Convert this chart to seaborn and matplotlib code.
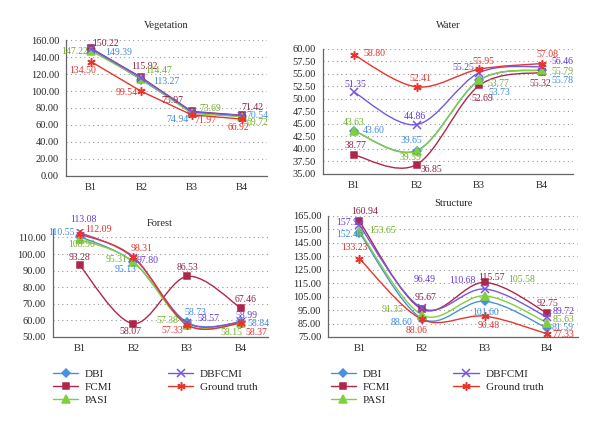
import numpy as np
import matplotlib
matplotlib.use('Agg')
import matplotlib.pyplot as plt
from matplotlib.path import Path
from matplotlib.patches import PathPatch
from matplotlib.lines import Line2D
import seaborn as sns

# --- data ---
bands = ['B1', 'B2', 'B3', 'B4']
methods = ['DBI', 'FCMI', 'PASI', 'DBFCMI', 'Ground truth']

veg_dbi = [149.39, 113.27, 74.94, 70.54]
veg_fcmi = [150.22, 115.92, 75.97, 71.42]
veg_pasi = [147.22, 114.47, 73.69, 69.72]
veg_dbfcmi = [150.00, 115.40, 75.60, 71.10]   # not labelled in the figure
veg_gt = [134.50, 99.54, 71.97, 66.92]

water_dbi = [43.60, 39.65, 53.73, 55.78]
water_fcmi = [38.77, 36.85, 52.69, 55.32]
water_pasi = [43.63, 39.59, 53.77, 55.79]
water_dbfcmi = [51.35, 44.86, 55.25, 56.46]
water_gt = [58.80, 52.41, 55.95, 57.08]

forest_dbi = [110.55, 95.13, 58.73, 58.84]
forest_fcmi = [93.28, 58.07, 86.53, 67.46]
forest_pasi = [108.90, 95.31, 57.38, 58.15]
forest_dbfcmi = [113.08, 97.80, 58.57, 58.99]
forest_gt = [112.09, 98.31, 57.33, 58.37]

struct_dbi = [152.46, 88.60, 101.60, 81.59]
struct_fcmi = [160.94, 95.67, 115.57, 92.75]
struct_pasi = [153.65, 91.35, 105.58, 85.63]
struct_dbfcmi = [157.93, 96.49, 110.68, 89.72]
struct_gt = [133.23, 88.06, 90.48, 77.33]

veg_ticks = [0, 20, 40, 60, 80, 100, 120, 140, 160]
water_ticks = [35, 37.5, 40, 42.5, 45, 47.5, 50, 52.5, 55, 57.5, 60]
forest_ticks = [50, 60, 70, 80, 90, 100, 110]
struct_ticks = [75, 85, 95, 105, 115, 125, 135, 145, 155, 165]

# --- styles ---
line_col = {'DBI': '#4a90e2', 'FCMI': '#b0264a', 'PASI': '#7fd03c',
            'DBFCMI': '#7656e4', 'Ground truth': '#e8342c'}
text_col = {'DBI': '#3d8be0', 'FCMI': '#8e2040', 'PASI': '#6fae2c',
            'DBFCMI': '#6438dc', 'Ground truth': '#e2302c'}
markers = {'DBI': 'D', 'FCMI': 's', 'PASI': '^', 'DBFCMI': 'x', 'Ground truth': (6, 2, 0)}
msize = {'DBI': 4.5, 'FCMI': 5, 'PASI': 5.5, 'DBFCMI': 5.5, 'Ground truth': 6}

# label offsets in pixels (dx right, dy down), per method per band
veg_off = {'DBI': [(27, 3), (25, 2), (-14, 7), (16, -1)],
           'FCMI': [(14, -5), (3, -11), (-19, -11), (11, -8)],
           'PASI': [(-17, 1), (17, -8), (19, -5), (16, 6)],
           'DBFCMI': None,
           'Ground truth': [(-9, 9), (-15, 1), (14, 6), (-3, 8)]}
water_off = {'DBI': [(20, 0), (-5, -10), (20, 12), (21, 10)],
             'FCMI': [(1, -9), (15, 5), (3, 13), (-1, 11)],
             'PASI': [(0, -8), (-6, 7), (19, 3), (21, 1)],
             'DBFCMI': [(1, -8), (-2, -8), (-16, -5), (21, -5)],
             'Ground truth': [(20, -1), (4, -8), (4, -8), (6, -9)]}
forest_off = {'DBI': [(-18, -4), (-8, 7), (8, -10), (18, 1)],
              'FCMI': [(0, -8), (-3, 8), (0, -9), (5, -9)],
              'PASI': [(2, 5), (-17, -2), (-20, -4), (-9, 9)],
              'DBFCMI': [(4, -13), (14, 3), (21, -4), (6, -7)],
              'Ground truth': [(19, -5), (8, -8), (-15, 6), (16, 9)]}
struct_off = {'DBI': [(-10, 2), (-20, 4), (1, 11), (16, -1)],
              'FCMI': [(5, -10), (4, -12), (7, -5), (0, -10)],
              'PASI': [(23, -1), (-29, -5), (37, -16), (16, -3)],
              'DBFCMI': [(-10, -3), (3, -29), (-22, -9), (16, -6)],
              'Ground truth': [(-5, -11), (-5, 11), (4, 9), (16, 1)]}


def smooth_path(x, y):
    # Bezier curves through the points (spreadsheet-style smoothed line)
    pts = np.column_stack([x, y]).astype(float)
    n = len(pts)
    verts, codes = [pts[0]], [Path.MOVETO]
    for i in range(n - 1):
        p0, p1 = pts[max(i - 1, 0)], pts[i]
        p2, p3 = pts[i + 1], pts[min(i + 2, n - 1)]
        verts += [p1 + (p2 - p0) / 6, p2 - (p3 - p1) / 6, p2]
        codes += [Path.CURVE4] * 3
    return Path(verts, codes)


def draw(ax, title, series, offsets, ylim, yticks, smooth, pad):
    x = np.arange(len(bands))
    for m in methods:
        vals = series[m]
        if smooth:
            ax.add_patch(PathPatch(smooth_path(x, vals), fill=False,
                                   edgecolor=line_col[m], lw=1.0, zorder=2))
        sns.lineplot(x=x, y=vals, ax=ax, color=line_col[m], marker=markers[m],
                     markersize=msize[m], markeredgecolor=line_col[m],
                     markeredgewidth=1.1, linewidth=1.0,
                     linestyle='none' if smooth else '-', zorder=3)
        if offsets[m] is None:
            continue
        for xi, v, (dx, dy) in zip(x, vals, offsets[m]):
            ax.annotate(f'{v:.2f}', (xi, v), xytext=(dx, -dy),
                        textcoords='offset pixels', ha='center', va='center',
                        fontsize=7, color=text_col[m], zorder=4,
                        annotation_clip=False)
    ax.set_xlim(-0.5, len(bands) - 0.5)
    ax.set_ylim(*ylim)
    ax.set_yticks(yticks)
    ax.set_yticklabels([f'{t:.2f}' for t in yticks])
    ax.set_xticks(x)
    ax.set_xticklabels(bands)
    ax.set_xticks(np.arange(len(bands) + 1) - 0.5, minor=True)
    ax.tick_params(axis='x', which='major', length=0, pad=5, labelsize=7.5)
    ax.tick_params(axis='x', which='minor', length=3, color='#666666')
    ax.tick_params(axis='y', length=3, color='#666666', pad=2, labelsize=7.5)
    ax.yaxis.grid(True, linestyle=(0, (1, 3)), color='#9a9a9a', linewidth=0.8)
    ax.xaxis.grid(False)
    for s in ['top', 'right']:
        ax.spines[s].set_visible(False)
    for s in ['left', 'bottom']:
        ax.spines[s].set_color('#666666')
        ax.spines[s].set_linewidth(0.9)
    ax.set_xlabel('')
    ax.set_ylabel('')
    ax.set_title(title, fontsize=7.5, pad=pad)


sns.set_theme(style='white')
plt.rcParams['font.family'] = ['Liberation Serif', 'DejaVu Serif']

fig = plt.figure(figsize=(6, 4.26), dpi=100)
ax_veg = fig.add_axes([0.110, 0.587, 0.335, 0.319])
ax_wat = fig.add_axes([0.538, 0.592, 0.417, 0.293])
ax_for = fig.add_axes([0.088, 0.209, 0.358, 0.253])
ax_str = fig.add_axes([0.547, 0.209, 0.417, 0.284])

draw(ax_veg, 'Vegetation',
     dict(zip(methods, [veg_dbi, veg_fcmi, veg_pasi, veg_dbfcmi, veg_gt])),
     veg_off, (0, 160), veg_ticks, False, 9)
draw(ax_wat, 'Water',
     dict(zip(methods, [water_dbi, water_fcmi, water_pasi, water_dbfcmi, water_gt])),
     water_off, (35, 60), water_ticks, True, 15)
draw(ax_for, 'Forest',
     dict(zip(methods, [forest_dbi, forest_fcmi, forest_pasi, forest_dbfcmi, forest_gt])),
     forest_off, (50, 115), forest_ticks, True, 2)
draw(ax_str, 'Structure',
     dict(zip(methods, [struct_dbi, struct_fcmi, struct_pasi, struct_dbfcmi, struct_gt])),
     struct_off, (75, 165), struct_ticks, True, 7)

handles = [Line2D([0], [0], color=line_col[m], marker=markers[m], markersize=msize[m],
                  markeredgecolor=line_col[m], markeredgewidth=1.1, lw=1.0)
           for m in methods]
for bx, cs in [(0.088, 5.0), (0.551, 5.7)]:
    fig.legend(handles, methods, ncol=2, loc='upper left', bbox_to_anchor=(bx, 0.133),
               frameon=False, fontsize=8, handlelength=2.3, handletextpad=0.6,
               columnspacing=cs, labelspacing=0.3, borderaxespad=0, borderpad=0)

fig.savefig('out.png', dpi=100, facecolor='white')
